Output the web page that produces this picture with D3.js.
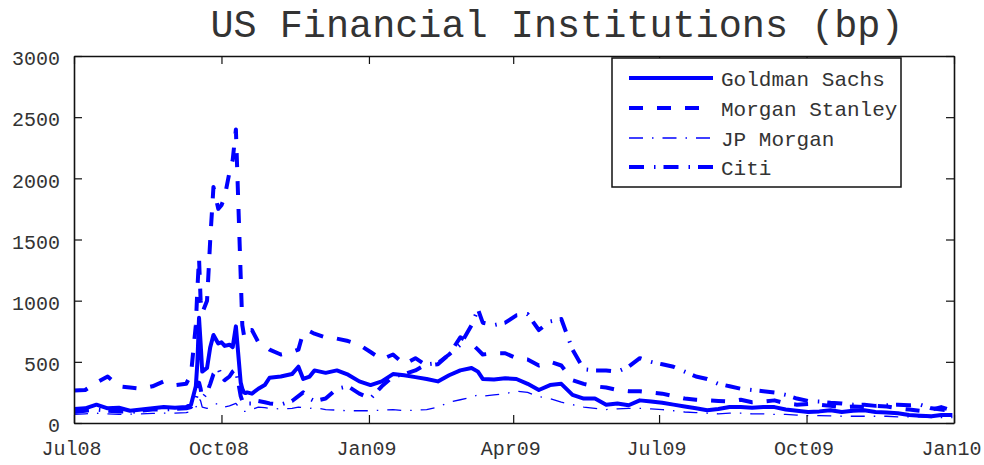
<!DOCTYPE html>
<html>
<head>
<meta charset="utf-8">
<script src="https://cdn.jsdelivr.net/npm/d3@7"></script>
<style>
  html, body { margin: 0; padding: 0; background: #fff; }
  svg text { font-family: "Liberation Mono", "DejaVu Sans Mono", monospace; fill: #333; }
</style>
</head>
<body>
<svg id="chart" width="984" height="465"></svg>
<script>
const dates = [
  "2008-07-01","2008-07-08","2008-07-15","2008-07-22","2008-07-29",
  "2008-08-05","2008-08-12","2008-08-19","2008-08-26",
  "2008-09-02","2008-09-09","2008-09-12","2008-09-15","2008-09-16","2008-09-17","2008-09-18","2008-09-19","2008-09-22","2008-09-24","2008-09-26","2008-09-29",
  "2008-10-01","2008-10-03","2008-10-06","2008-10-08","2008-10-10","2008-10-13","2008-10-14","2008-10-15","2008-10-16","2008-10-17","2008-10-20","2008-10-24","2008-10-28","2008-10-31",
  "2008-11-07","2008-11-14","2008-11-18","2008-11-21","2008-11-25","2008-11-28",
  "2008-12-05","2008-12-12","2008-12-19","2008-12-26",
  "2009-01-02","2009-01-09","2009-01-16","2009-01-23","2009-01-30",
  "2009-02-06","2009-02-13","2009-02-20","2009-02-27",
  "2009-03-06","2009-03-10","2009-03-13","2009-03-20","2009-03-27",
  "2009-04-03","2009-04-10","2009-04-17","2009-04-24",
  "2009-05-01","2009-05-08","2009-05-15","2009-05-22","2009-05-29",
  "2009-06-05","2009-06-12","2009-06-19","2009-06-26",
  "2009-07-03","2009-07-10","2009-07-17","2009-07-24","2009-07-31",
  "2009-08-07","2009-08-14","2009-08-21","2009-08-28",
  "2009-09-04","2009-09-11","2009-09-18","2009-09-25",
  "2009-10-02","2009-10-09","2009-10-16","2009-10-23","2009-10-30",
  "2009-11-06","2009-11-13","2009-11-20","2009-11-27",
  "2009-12-04","2009-12-11","2009-12-18","2009-12-24","2009-12-31"
];

const goldmanSachs = [
  115,120,150,120,125,
  100,110,120,130,
  125,130,150,300,500,860,650,420,450,620,720,650,
  660,630,640,620,790,330,280,250,245,250,240,280,310,370,
  380,400,460,360,380,430,
  410,430,395,340,
  310,340,400,390,375,
  360,340,390,430,
  450,420,360,355,365,
  360,320,270,310,
  320,230,200,200,150,
  160,145,185,175,
  165,150,135,120,105,
  115,130,130,125,
  130,130,110,100,
  90,95,105,90,100,
  105,90,85,80,
  65,60,55,65,65
];

const morganStanley = [
  265,270,330,380,300,
  290,280,300,340,
  310,320,400,800,1100,1350,1000,900,1000,1500,1930,1750,
  1780,1850,2050,2150,2400,1200,800,720,700,760,760,660,630,600,
  560,580,600,740,750,730,
  700,690,670,640,
  580,520,560,480,530,
  470,480,560,700,
  650,600,560,570,570,
  530,520,470,500,
  470,350,320,300,290,
  270,260,260,250,
  240,220,200,190,185,
  180,175,190,170,
  175,185,160,150,
  155,150,140,130,135,
  130,140,135,120,
  110,100,110,130,100
];

const jpMorgan = [
  70,75,80,75,70,
  72,75,78,80,
  80,85,95,130,150,200,180,130,120,130,150,160,
  140,130,140,150,160,110,100,95,95,100,110,130,125,120,
  115,120,130,125,120,125,
  110,105,100,100,
  100,105,110,100,105,
  110,130,170,190,
  210,230,220,230,240,
  260,250,215,200,
  170,150,130,120,110,
  115,120,120,115,
  110,100,90,85,80,
  75,80,80,75,
  75,70,70,65,
  60,60,58,55,55,
  55,55,55,50,
  50,50,45,45,45
];

const citi = [
  90,100,110,100,95,
  90,100,110,110,
  115,120,130,200,250,330,280,200,250,320,400,450,
  380,350,380,420,440,220,180,160,150,160,160,180,170,160,
  150,180,220,250,200,180,
  200,280,300,240,
  200,300,380,400,430,
  480,490,560,640,
  800,930,820,800,820,
  880,890,760,830,
  850,600,440,430,430,
  420,460,530,500,
  480,460,420,380,360,
  320,300,280,270,
  260,250,230,200,
  180,175,165,160,150,
  150,140,145,150,
  145,150,120,110,95
];

const seriesNames = ["Goldman Sachs", "Morgan Stanley", "JP Morgan", "Citi"];
const yTicks = [0, 500, 1000, 1500, 2000, 2500, 3000];
const xTickDates = ["2008-07-01","2008-10-01","2009-01-01","2009-04-01","2009-07-01","2009-10-01","2010-01-01"];
const xTickLabels = ["Jul08","Oct08","Jan09","Apr09","Jul09","Oct09","Jan10"];
const title = "US Financial Institutions (bp)";

const parse = d3.utcParse("%Y-%m-%d");
const W = 984, H = 465;
const m = {left: 74, right: 30, top: 56, bottom: 42};
const iw = W - m.left - m.right, ih = H - m.top - m.bottom;

const svg = d3.select("#chart");
const x = d3.scaleUtc().domain([parse(xTickDates[0]), parse(xTickDates[xTickDates.length - 1])]).range([m.left, m.left + iw]);
const y = d3.scaleLinear().domain([0, 3000]).range([m.top + ih, m.top]);

const styles = [
  {w: 4, dash: null},
  {w: 4, dash: "14,14"},
  {w: 1.3, dash: "14,9,1.5,9"},
  {w: 4, dash: "15,10,1.5,8"}
];
const allSeries = [goldmanSachs, morganStanley, jpMorgan, citi];
const dateObjs = dates.map(parse);

svg.append("clipPath").attr("id", "clip").append("rect")
  .attr("x", m.left).attr("y", m.top).attr("width", iw).attr("height", ih);

const line = d3.line().x(d => x(d[0])).y(d => y(d[1]));
const drawOrder = [3, 2, 1, 0];
const g = svg.append("g").attr("clip-path", "url(#clip)");
drawOrder.forEach(i => {
  const pts = dateObjs.map((d, k) => [d, allSeries[i][k]]);
  g.append("path")
    .attr("d", line(pts))
    .attr("fill", "none")
    .attr("stroke", "#0000ff")
    .attr("stroke-width", styles[i].w)
    .attr("stroke-linejoin", "round")
    .attr("stroke-dasharray", styles[i].dash);
});

// axes box with inward ticks
const tickVals = xTickDates.map(parse);
const axB = d3.axisBottom(x).tickValues(tickVals).tickSizeInner(-8).tickSizeOuter(0).tickFormat((d, i) => xTickLabels[i]);
const axT = d3.axisTop(x).tickValues(tickVals).tickSizeInner(-8).tickSizeOuter(0).tickFormat("");
const axL = d3.axisLeft(y).tickValues(yTicks).tickSizeInner(-8).tickSizeOuter(0).tickFormat(d3.format("d"));
const axR = d3.axisRight(y).tickValues(yTicks).tickSizeInner(-8).tickSizeOuter(0).tickFormat("");

function styleAxis(sel) {
  sel.select(".domain").attr("stroke", "#111").attr("stroke-width", 1.6);
  sel.selectAll(".tick line").attr("stroke", "#111").attr("stroke-width", 1.2);
  sel.selectAll("text").attr("font-family", "Liberation Mono").attr("font-size", 20).attr("fill", "#333");
}
const gb = svg.append("g").attr("transform", `translate(0,${m.top + ih})`).call(axB).call(styleAxis);
gb.selectAll(".tick text").attr("dy", "0").attr("y", 32).attr("dx", -3);
svg.append("g").attr("transform", `translate(0,${m.top})`).call(axT).call(styleAxis);
const gl = svg.append("g").attr("transform", `translate(${m.left},0)`).call(axL).call(styleAxis);
gl.selectAll(".tick text").attr("x", -14).attr("dy", "0.44em");
svg.append("g").attr("transform", `translate(${m.left + iw},0)`).call(axR).call(styleAxis);

// title
svg.append("text").attr("x", 557).attr("y", 37).attr("text-anchor", "middle")
  .attr("font-size", 38.5).text(title);

// legend
const lg = svg.append("g");
lg.append("rect").attr("x", 612).attr("y", 58).attr("width", 289).attr("height", 129)
  .attr("fill", "#fff").attr("stroke", "#111").attr("stroke-width", 1.5);
const rowY = [78, 108, 138, 167];
seriesNames.forEach((name, i) => {
  lg.append("line").attr("x1", 629).attr("x2", 713).attr("y1", rowY[i]).attr("y2", rowY[i])
    .attr("stroke", "#0000ff").attr("stroke-width", styles[i].w)
    .attr("stroke-dasharray", styles[i].dash);
  lg.append("text").attr("x", 721).attr("y", rowY[i]).attr("dy", "0.38em")
    .attr("font-size", 21).text(name);
});
</script>
</body>
</html>
